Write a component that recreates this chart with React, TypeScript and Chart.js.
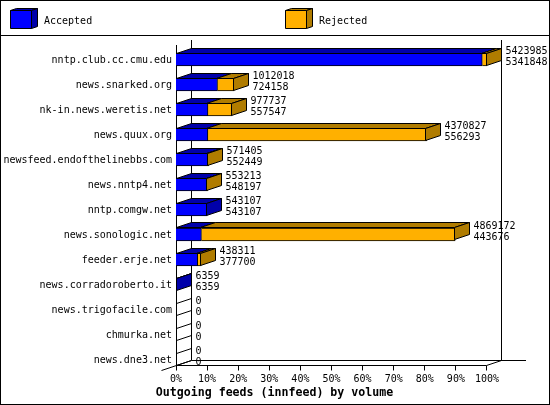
import React, { useEffect, useRef } from "react";
import { Chart, registerables } from "chart.js";

Chart.register(...registerables);

const categories = [
  "nntp.club.cc.cmu.edu", "news.snarked.org", "nk-in.news.weretis.net", "news.quux.org",
  "newsfeed.endofthelinebbs.com", "news.nntp4.net", "nntp.comgw.net", "news.sonologic.net",
  "feeder.erje.net", "news.corradoroberto.it", "news.trigofacile.com", "chmurka.net", "news.dne3.net",
];
const totalVolumes = [5423985, 1012018, 977737, 4370827, 571405, 553213, 543107, 4869172, 438311, 6359, 0, 0, 0];
const acceptedVolumes = [5341848, 724158, 557547, 556293, 552449, 548197, 543107, 443676, 377700, 6359, 0, 0, 0];
const percentTicks = [0, 10, 20, 30, 40, 50, 60, 70, 80, 90, 100];
const seriesNames = ["Accepted", "Rejected"];
const chartTitle = "Outgoing feeds (innfeed) by volume";

const maxVolume = Math.max(...totalVolumes);
const acceptedPct = acceptedVolumes.map((v) => (v / maxVolume) * 100);
const rejectedPct = totalVolumes.map((v, i) => ((v - acceptedVolumes[i]) / maxVolume) * 100);

const BLUE = "#0000ff";
const DARK_BLUE = "#0000aa";
const ORANGE = "#ffb000";
const DARK_ORANGE = "#b07c00";
const DX = 15;
const DY = 5;
const MONO = '"DejaVu Sans Mono", "Liberation Mono", monospace';

function poly(ctx: CanvasRenderingContext2D, pts: number[][], fill: string | null) {
  ctx.beginPath();
  pts.forEach((p, i) => (i ? ctx.lineTo(p[0], p[1]) : ctx.moveTo(p[0], p[1])));
  ctx.closePath();
  if (fill) {
    ctx.fillStyle = fill;
    ctx.fill();
  }
  ctx.stroke();
}

function seg(ctx: CanvasRenderingContext2D, x0: number, y0: number, x1: number, y1: number) {
  ctx.beginPath();
  ctx.moveTo(x0, y0);
  ctx.lineTo(x1, y1);
  ctx.stroke();
}

const frame3d = {
  id: "frame3d",
  beforeDatasetsDraw(chart: any) {
    const { ctx, scales } = chart;
    const x = scales.x;
    const y0 = 45;
    const front = 365.5;
    const back = 360.5;
    const left = Math.floor(x.getPixelForValue(0)) + 0.5;
    const right = Math.floor(x.getPixelForValue(100) - 1) + 0.5;
    ctx.save();
    ctx.strokeStyle = "#000";
    ctx.lineWidth = 1;
    // outer frame and legend rule
    ctx.strokeRect(0.5, 0.5, 549, 404);
    seg(ctx, 0, 35.5, 550, 35.5);
    // walls and floor
    seg(ctx, left, y0, left, front);
    seg(ctx, left + DX, y0 - DY, left + DX, back);
    seg(ctx, right + DX, y0 - DY, right + DX, back);
    seg(ctx, left + DX, back, 526, back);
    seg(ctx, left, front, right, front);
    seg(ctx, right, front, right + DX, back);
    seg(ctx, left - DX, front + DY, left + DX, back);
    percentTicks.forEach((t) => {
      const px = t === 100 ? right : Math.floor(x.getPixelForValue(t)) + 0.5;
      seg(ctx, px, front, px, front + 5);
    });
    // legend
    seriesNames.forEach((name, i) => {
      const bx = i === 0 ? 10.5 : 285.5;
      const by = 10.5;
      const w = 21;
      const h = 18;
      const front3d = i === 0 ? BLUE : ORANGE;
      const shade = i === 0 ? DARK_BLUE : DARK_ORANGE;
      poly(ctx, [[bx, by], [bx + w, by], [bx + w + 6, by - 2], [bx + 6, by - 2]], shade);
      poly(ctx, [[bx + w, by], [bx + w + 6, by - 2], [bx + w + 6, by + h - 2], [bx + w, by + h]], shade);
      poly(ctx, [[bx, by], [bx + w, by], [bx + w, by + h], [bx, by + h]], front3d);
      ctx.fillStyle = "#000";
      ctx.font = `10px ${MONO}`;
      ctx.textAlign = "left";
      ctx.textBaseline = "middle";
      ctx.fillText(name, i === 0 ? 44 : 319, 21);
    });
    ctx.restore();
  },
  afterDatasetsDraw(chart: any) {
    const { ctx, scales } = chart;
    const x = scales.x;
    const acceptedMeta = chart.getDatasetMeta(0).data;
    ctx.save();
    ctx.strokeStyle = "#000";
    ctx.lineWidth = 1;
    categories.forEach((_, i) => {
      const cy = acceptedMeta[i].y;
      const top = Math.floor(cy - 6.5) + 0.5;
      const bottom = top + 12;
      const xa = x.getPixelForValue(acceptedPct[i]);
      const xt = x.getPixelForValue(acceptedPct[i] + rejectedPct[i]);
      const x0 = Math.floor(x.getPixelForValue(0)) + 0.5;
      const xA = Math.max(x0, Math.floor(xa - 1) + 0.5);
      const xT = Math.max(x0, Math.floor(xt - 1) + 0.5);
      if (totalVolumes[i] === 0) {
        seg(ctx, x0, top, x0 + DX, top - DY);
        seg(ctx, x0, bottom, x0 + DX, bottom - DY);
      } else {
        poly(ctx, [[x0, top], [xA, top], [xA + DX, top - DY], [x0 + DX, top - DY]], DARK_BLUE);
        const hasRejected = rejectedPct[i] > 0;
        if (hasRejected) {
          poly(ctx, [[xA, top], [xT, top], [xT + DX, top - DY], [xA + DX, top - DY]], DARK_ORANGE);
        }
        poly(
          ctx,
          [[xT, top], [xT + DX, top - DY], [xT + DX, bottom - DY], [xT, bottom]],
          hasRejected ? DARK_ORANGE : DARK_BLUE,
        );
      }
      ctx.fillStyle = "#000";
      ctx.font = `10px ${MONO}`;
      ctx.textAlign = "left";
      ctx.textBaseline = "middle";
      ctx.fillText(String(totalVolumes[i]), xT + DX + 4, cy - 8.5);
      ctx.fillText(String(acceptedVolumes[i]), xT + DX + 4, cy + 2.5);
    });
    ctx.fillStyle = "#000";
    ctx.font = `bold 11.6px ${MONO}`;
    ctx.textAlign = "center";
    ctx.textBaseline = "middle";
    ctx.fillText(chartTitle, 274.5, 392.5);
    ctx.restore();
  },
};

export default function App() {
  const ref = useRef<HTMLCanvasElement>(null);
  useEffect(() => {
    document.body.style.margin = "0";
    const chart = new Chart(ref.current as HTMLCanvasElement, {
      type: "bar",
      data: {
        labels: categories,
        datasets: [
          { label: seriesNames[0], data: acceptedPct, backgroundColor: BLUE, borderColor: "#000", borderWidth: 1, barThickness: 13 },
          { label: seriesNames[1], data: rejectedPct, backgroundColor: ORANGE, borderColor: "#000", borderWidth: 1, barThickness: 13 },
        ],
      },
      options: {
        indexAxis: "y",
        animation: false,
        responsive: false,
        devicePixelRatio: 1,
        layout: { padding: { top: 47, right: 63, left: 0, bottom: 20 } },
        plugins: {
          legend: { display: false },
          tooltip: { enabled: false },
          title: { display: false },
        },
        scales: {
          x: {
            stacked: true,
            min: 0,
            max: 100,
            afterBuildTicks: (s: any) => {
              s.ticks = percentTicks.map((value) => ({ value }));
            },
            afterFit: (s: any) => {
              s.height = 13;
            },
            grid: { display: false, drawTicks: false },
            border: { display: false },
            ticks: {
              maxRotation: 0,
              autoSkip: false,
              color: "#000",
              padding: 1,
              font: { family: MONO, size: 10 },
              callback: (v: any) => `${v}%`,
            },
          },
          y: {
            stacked: true,
            afterFit: (s: any) => {
              s.width = 176;
            },
            grid: { display: false, drawTicks: false },
            border: { display: false },
            ticks: {
              autoSkip: false,
              color: "#000",
              padding: 4,
              labelOffset: 1,
              font: { family: MONO, size: 10 },
            },
          },
        },
      },
      plugins: [frame3d],
    } as any);
    return () => chart.destroy();
  }, []);
  return (
    <canvas
      ref={ref}
      width={550}
      height={405}
      style={{ display: "block", position: "absolute", left: 0, top: 0, background: "#fff" }}
    />
  );
}
